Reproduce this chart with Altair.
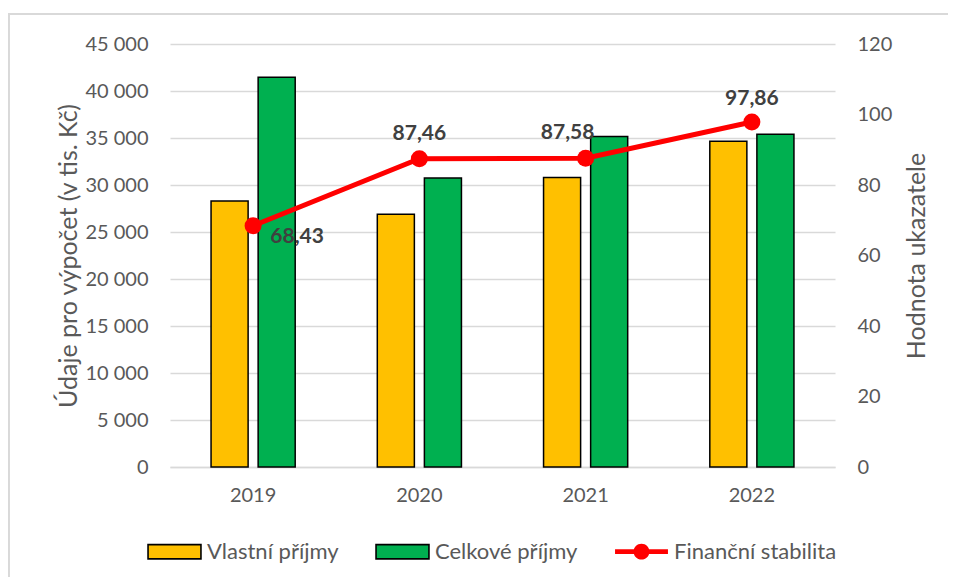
import altair as alt
import pandas as pd

years = ["2019", "2020", "2021", "2022"]
vlastni = [28300, 26900, 30800, 34650]
celkove = [41450, 30750, 35150, 35400]
stabilita = [68.43, 87.46, 87.58, 97.86]
series_names = ["Vlastní příjmy", "Celkové příjmy", "Finanční stabilita"]
colors = ["#FFC000", "#00B050", "#FF0000"]
left_ticks = list(range(0, 45001, 5000))
right_ticks = list(range(0, 121, 20))

bars_df = pd.DataFrame({
    "year": years * 2,
    "series": [series_names[0]] * 4 + [series_names[1]] * 4,
    "value": vlastni + celkove,
})
line_df = pd.DataFrame({"year": years, "series": series_names[2], "stab": stabilita})

FONT = "Lato"
W, H = 665, 423
PAD = {"left": 162, "top": 36, "right": 113, "bottom": 110}

x_enc = alt.X(
    "year:N",
    scale=alt.Scale(paddingInner=0, paddingOuter=0),
    axis=alt.Axis(title=None, labelAngle=0, ticks=False, domain=True,
                  domainColor="#d9d9d9", domainWidth=1.3, labelPadding=18,
                  labelFontSize=20, labelColor="#595959", labelFont=FONT),
)

LINE_PATH = "M-1,-0.09H1V0.09H-1Z M0.3,0A0.3,0.3 0 1,1 -0.3,0A0.3,0.3 0 1,1 0.3,0Z"
RECT_PATH = "M-1,-0.27H1V0.27H-1Z"

legend_spec = alt.Legend(
    orient="none", legendX=-23, legendY=480, title=None, direction="horizontal",
    labelFont=FONT, labelFontSize=22, labelColor="#595959", labelLimit=400,
    columnPadding=33, symbolSize=2800, labelOffset=5,
    symbolType=alt.ExprRef(expr=f"datum.value == 'Finanční stabilita' ? '{LINE_PATH}' : '{RECT_PATH}'"),
    symbolFillColor=alt.ExprRef(expr="datum.value == 'Vlastní příjmy' ? '#FFC000' : (datum.value == 'Celkové příjmy' ? '#00B050' : '#FF0000')"),
    symbolStrokeColor=alt.ExprRef(expr="datum.value == 'Finanční stabilita' ? 'rgba(0,0,0,0)' : '#000000'"),
    symbolStrokeWidth=1.6,
    symbolOpacity=1,
)

color_enc = alt.Color(
    "series:N",
    scale=alt.Scale(domain=series_names, range=colors),
    legend=legend_spec,
)

y_left = alt.Y(
    "value:Q",
    scale=alt.Scale(domain=[0, 45000]),
    axis=alt.Axis(values=left_ticks, title="Údaje pro výpočet (v tis. Kč)",
                  labelExpr="replace(format(datum.value, ','), ',', ' ')",
                  grid=True, gridColor="#d9d9d9", gridWidth=1.3, domain=False, ticks=False,
                  labelPadding=22, labelFontSize=20, labelColor="#595959", labelFont=FONT,
                  titleFont=FONT, titleFontSize=25, titleColor="#595959", titleFontWeight="normal",
                  titlePadding=3),
)

y_right = alt.Y(
    "stab:Q",
    scale=alt.Scale(domain=[0, 120]),
    axis=alt.Axis(values=right_ticks, orient="right", title="Hodnota ukazatele",
                  grid=False, domain=False, ticks=False,
                  labelPadding=22, labelFontSize=20, labelColor="#595959", labelFont=FONT,
                  titleFont=FONT, titleFontSize=25, titleColor="#595959", titleFontWeight="normal",
                  titleAngle=270, titlePadding=38),
)

bars = alt.Chart(bars_df).mark_bar(stroke="black", strokeWidth=1.5).encode(
    x=x_enc,
    xOffset=alt.XOffset("series:N", sort=series_names[:2],
                        scale=alt.Scale(paddingInner=0.2128, paddingOuter=0.872)),
    y=y_left,
    color=color_enc,
)

line = alt.Chart(line_df).mark_line(strokeWidth=5, color="#FF0000").encode(
    x=x_enc, y=y_right,
)
points = alt.Chart(line_df).mark_circle(size=290, opacity=1).encode(
    x=x_enc, y=y_right, color=alt.value("#FF0000"),
)

text_base = alt.Chart(line_df).transform_calculate(
    lbl="replace(format(datum.stab, '.2f'), '.', ',')"
)


def lab(year, dx, dy):
    return text_base.transform_filter(alt.datum.year == year).mark_text(
        font=FONT, fontSize=21, fontWeight="bold", color="#404040",
        baseline="middle", dx=dx, dy=dy,
    ).encode(x=x_enc, y=y_right, text="lbl:N")


right = alt.layer(line, points, lab("2019", 44, 11), lab("2020", 0, -25),
                  lab("2021", -18, -25), lab("2022", 0, -23))

border_top = alt.Chart(line_df).mark_rule(color="#d9d9d9", strokeWidth=1.5).encode(
    x=alt.value(-PAD["left"]), x2=alt.value(W + PAD["right"]),
    y=alt.value(-30),
)
border_left = alt.Chart(line_df).mark_rule(color="#d9d9d9", strokeWidth=1.5).encode(
    x=alt.value(-PAD["left"] + 0.8),
    y=alt.value(-30), y2=alt.value(H + PAD["bottom"]),
)

chart = alt.layer(border_top, border_left, bars, right).resolve_scale(
    y="independent"
).properties(
    width=W, height=H,
    autosize=alt.AutoSizeParams(type="none"),
    padding=PAD,
).configure_view(stroke=None)

chart.save("out.html", embed_options={"renderer": "svg", "actions": False})
